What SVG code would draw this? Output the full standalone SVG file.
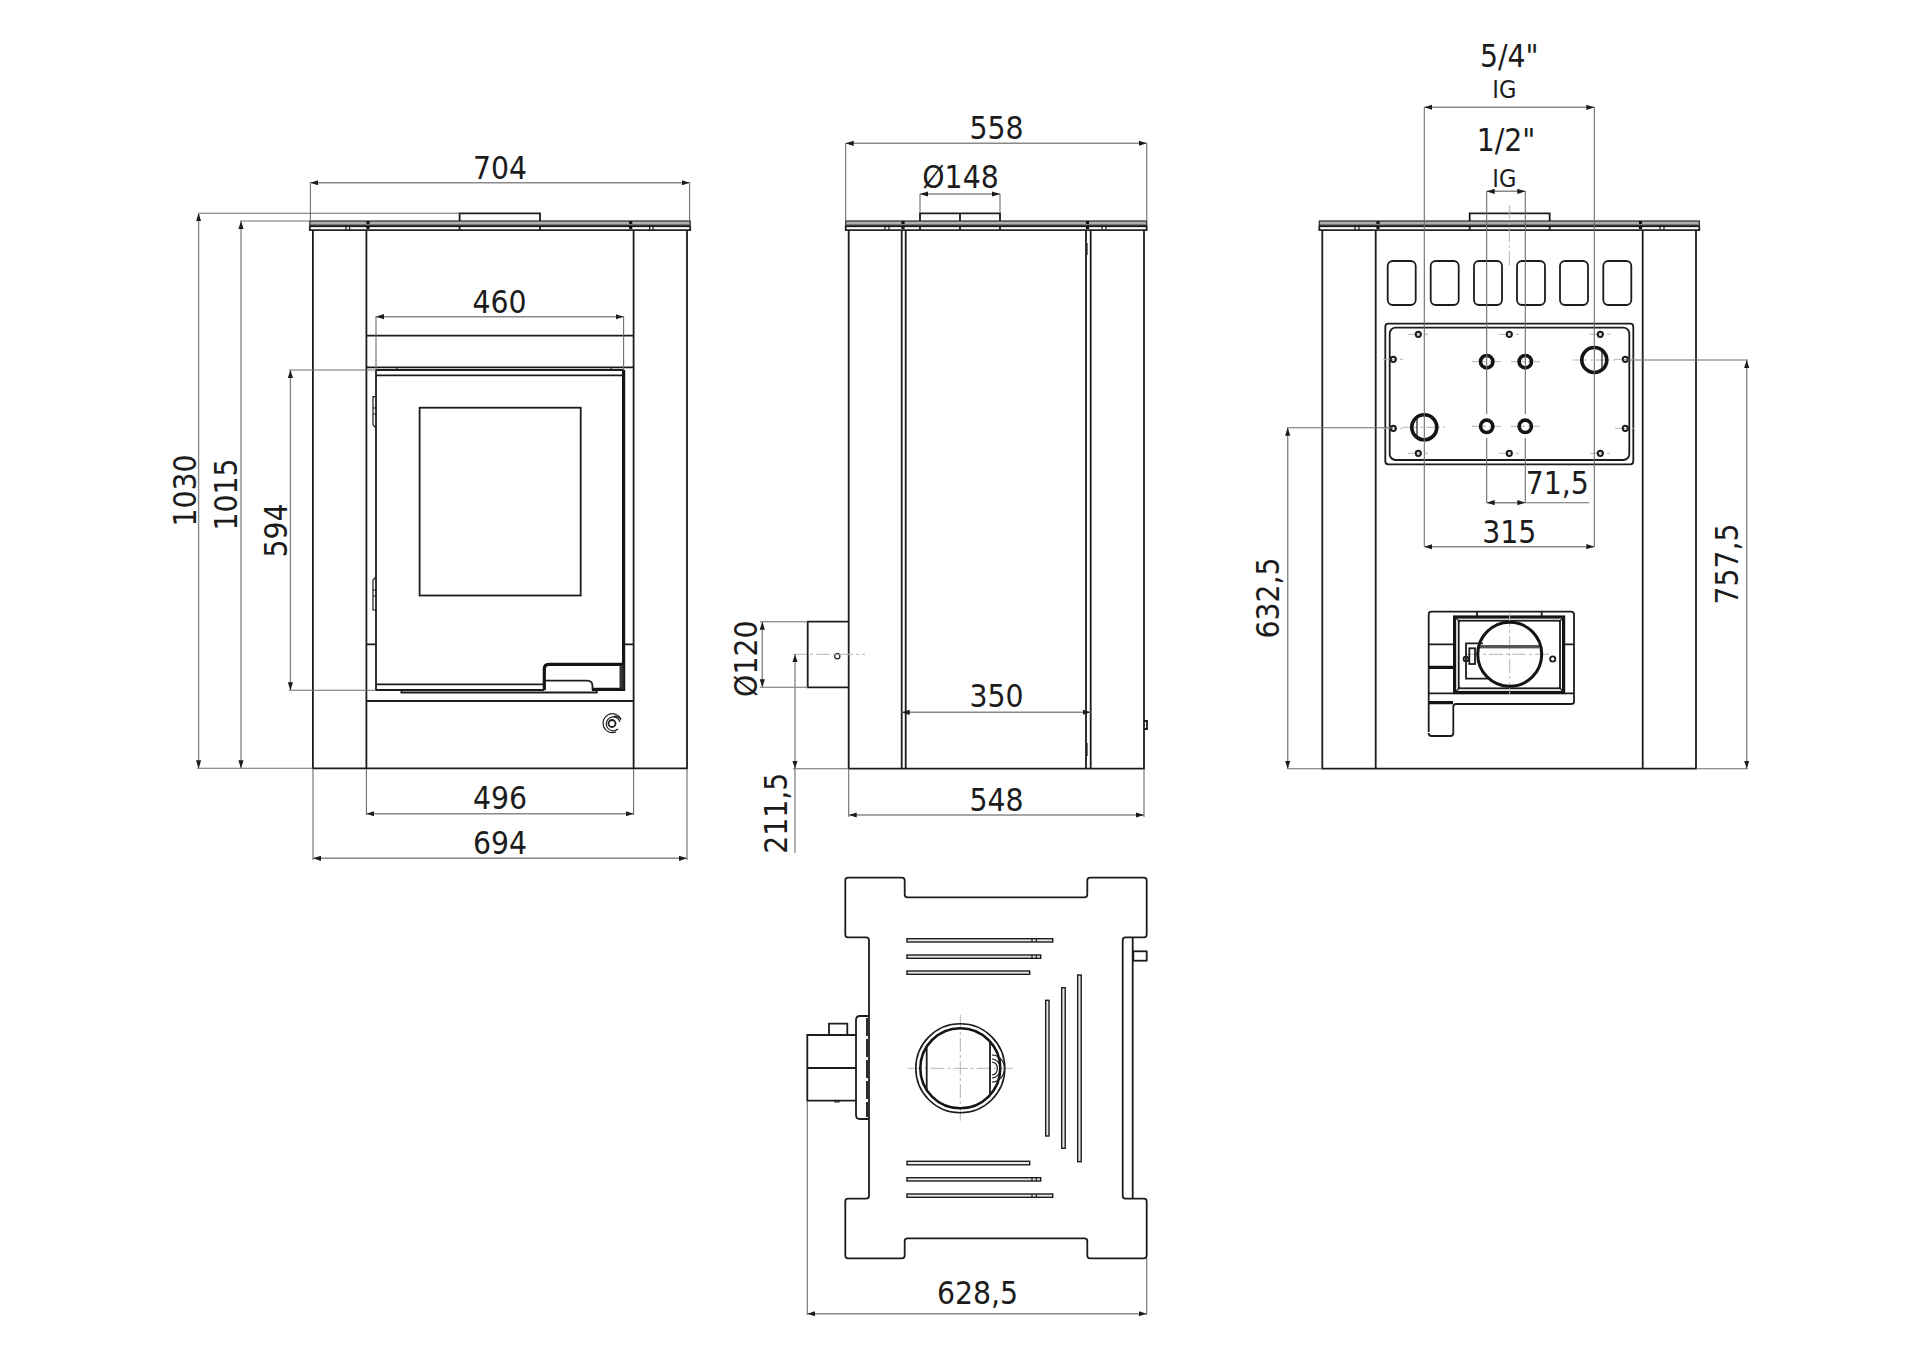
<svg xmlns="http://www.w3.org/2000/svg" width="1920" height="1358" viewBox="0 0 1920 1358">
<style>
.o{fill:none;stroke:#1c1c1c;stroke-width:1.8}
.w{fill:none;stroke:#1c1c1c;stroke-width:1.2}
.t{fill:none;stroke:#141414;stroke-width:3.2}
.g{fill:#b0b0b0;stroke:#2a2a2a;stroke-width:1.2}
.b{fill:#fff;stroke:#1c1c1c;stroke-width:1.7}
.s{fill:#e8e8e8;stroke:#1c1c1c;stroke-width:1.4}
.f{fill:#333;stroke:none}
.d{fill:none;stroke:#8a8a8a;stroke-width:1.4;marker-start:url(#a);marker-end:url(#a)}
.e{fill:none;stroke:#6e6e6e;stroke-width:1.1}
.c{fill:none;stroke:#b5b5b5;stroke-width:1;stroke-dasharray:14 3 3 3}
text{font-family:"DejaVu Sans Condensed","DejaVu Sans",sans-serif;font-stretch:condensed;font-size:31.5px;fill:#1c1c1c;text-anchor:middle}
text.m{font-size:25px}
</style>
<defs>
<marker id="a" viewBox="0 0 8 6" refX="8" refY="3" markerWidth="8" markerHeight="6" markerUnits="userSpaceOnUse" orient="auto-start-reverse"><path d="M0,.4 8,3 0,5.6Z" fill="#1c1c1c"/></marker>
</defs>
<rect width="1920" height="1358" fill="#fff"/>

<g id="front-view">
<rect class="g" x="309.8" y="221" width="380.4" height="4.2"/>
<rect class="b" x="309.8" y="226.3" width="380.4" height="3.8"/>
<path class="o" d="M459.6,221V213.3H540V221M459.6,226V230M540,226V230"/>
<path class="t" d="M368,221V230M630.7,221V230" stroke-dasharray="3 2"/>
<path class="w" d="M346,225V230M349.6,225V230M649.6,225V230M653,225V230"/>
<path class="o" d="M312.9,230V768.3H687V230M366.4,230V768.3M633.6,230V768.3M366.4,335.7H633.6M366.4,367.3H633.6M366.4,701H633.6M366.4,644.3H376M623.6,644.3H633.6"/>
<path class="o" d="M376,370H623.6M376,375.3H623.6M376,370V690H544.3M376,684.3H544.3"/>
<path class="t" d="M623.6,370V689.3H592" stroke-width="2.4"/>
<path class="w" d="M397,367V370M611,367V370"/>
<rect class="o" x="419.6" y="407.7" width="161.1" height="187.8"/>
<path class="w" d="M376,396.7H373V425L376,428M373,408H376M373,414H376M376,577L373,580V610H376M373,590H376M373,596H376"/>
<path class="t" d="M544.3,690V669Q544.3,664.3 549,664.3H623.6" stroke-width="2.4"/>
<rect class="f" x="619.5" y="665" width="4" height="24"/>
<path class="o" d="M545,680.7H587Q592.5,680.7 592.5,686V690"/>
<path class="o" d="M401.4,690.5V692.5H596.8V689"/>
</g>
<g id="front-knob">
<circle class="o" cx="612" cy="723.5" r="3.5"/>
<path class="w" d="M620,722A7,7 0 1 0 618,729M621,719A9.5,9.5 0 1 0 616,732M614,716A8,8 0 0 1 621,720"/>
</g>

<g id="side-view">
<rect class="g" x="845.7" y="221" width="301" height="4.2"/>
<rect class="b" x="845.7" y="226.3" width="301" height="3.8"/>
<path class="o" d="M920,221V213.3H1000V221M960,213.3V221M920,226V230M960,226V230M1000,226V230"/>
<path class="t" d="M903,221V230M1087.5,221V230" stroke-dasharray="3 2"/>
<path class="w" d="M885,225V230M889,225V230M1102,225V230M1106,225V230"/>
<path class="o" d="M848.7,230V768.7H1144V230M901.7,230V768.7M905.7,230V768.7M1086,230V768.7M1090.7,230V768.7"/>
<path class="w" d="M1087,243V255M1087,743V756"/>
<path class="o" d="M848.7,621.7H807.7V687.3H848.7"/>
<circle class="w" cx="837.3" cy="656.3" r="2.6"/>
<path class="o" d="M1144,721H1147V729H1144"/>
<path class="c" d="M793,654.3H865"/>
</g>

<g id="rear-view">
<rect class="g" x="1319.3" y="221" width="380" height="4.2"/>
<rect class="b" x="1319.3" y="226.3" width="380" height="3.8"/>
<path class="o" d="M1469.7,221V213.3H1549.7V221M1469.7,226V230M1549.7,226V230"/>
<path class="t" d="M1378,221V230M1640.5,221V230" stroke-dasharray="3 2"/>
<path class="w" d="M1355,225V230M1359,225V230M1660,225V230M1664,225V230"/>
<path class="o" d="M1322.3,230V768.7H1696V230M1375.7,230V768.7M1642.7,230V768.7"/>
<path class="c" d="M1509.3,205V265"/>
<g id="vents">
<rect class="o" x="1387.7" y="261" width="28" height="44" rx="5"/>
<rect class="o" x="1430.7" y="261" width="28" height="44" rx="5"/>
<rect class="o" x="1474" y="261" width="28" height="44" rx="5"/>
<rect class="o" x="1517" y="261" width="28" height="44" rx="5"/>
<rect class="o" x="1560" y="261" width="28" height="44" rx="5"/>
<rect class="o" x="1603.3" y="261" width="28" height="44" rx="5"/>
</g>
<g id="connection-plate">
<rect class="o" x="1385.3" y="323.7" width="248" height="140.6" rx="3"/>
<rect class="o" x="1389.7" y="327.7" width="239.6" height="132.3" rx="6"/>
<path class="c" d="M1408,334.3H1429M1499,334.3H1520M1590,334.3H1611M1383,359.3H1404M1615,359.3H1636M1383,428.3H1404M1615,428.3H1636M1408,453.3H1429M1499,453.3H1520M1590,453.3H1611M1472,361.7H1501M1511,361.7H1540M1472,426.3H1501M1511,426.3H1540M1573,360H1615M1403,427.3H1445"/>
<g class="w" style="stroke-width:2">
<circle cx="1418.3" cy="334.3" r="2.6"/><circle cx="1509.3" cy="334.3" r="2.6"/><circle cx="1600.3" cy="334.3" r="2.6"/>
<circle cx="1393.3" cy="359.3" r="2.6"/><circle cx="1625.3" cy="359.3" r="2.6"/>
<circle cx="1393.3" cy="428.3" r="2.6"/><circle cx="1625.3" cy="428.3" r="2.6"/>
<circle cx="1418.3" cy="453.3" r="2.6"/><circle cx="1509.3" cy="453.3" r="2.6"/><circle cx="1600.3" cy="453.3" r="2.6"/>
</g>
<g class="t" style="stroke-width:3.6">
<circle cx="1486.7" cy="361.7" r="6.2"/><circle cx="1525.3" cy="361.7" r="6.2"/>
<circle cx="1486.7" cy="426.3" r="6.2"/><circle cx="1525.3" cy="426.3" r="6.2"/>
<circle cx="1594.3" cy="360" r="12.5"/><circle cx="1424.3" cy="427.3" r="12.5"/>
</g>
<path class="w" d="M1602,350V370M1417,417V437"/>
</g>
<g id="ash-door">
<path class="o" d="M1428.7,732V614.5Q1428.7,611.7 1431.5,611.7H1571Q1574,611.7 1574,614.5V702Q1574,704 1571,704H1456Q1453.3,704 1453.3,707V733Q1453.3,736 1450.5,736H1431.5Q1428.7,736 1428.7,733"/>
<path class="o" d="M1477,611.7V616.7M1541.7,611.7V616.7M1428.7,644.3H1454M1564,644.3H1574M1428.7,693.3H1574"/>
<path class="t" d="M1428.7,667.3H1454M1428.7,702.7H1453" stroke-width="1.8"/>
<rect class="t" x="1454.6" y="617" width="109" height="75.5"/>
<rect class="o" x="1458.7" y="620.7" width="101.3" height="67.6"/>
<path class="w" d="M1455,617L1460,622M1564,617L1559,622M1455,692.5L1460,687M1564,692.5L1559,687"/>
<path class="c" d="M1509.7,613V695M1466,654.3H1550"/>
<rect x="1478.3" y="645" width="61" height="3.4" fill="#555"/>
<circle class="t" cx="1509.7" cy="654.3" r="32" style="stroke-width:3"/>
<path class="o" d="M1483,643.3H1466V678.7H1490"/>
<rect class="o" x="1469.3" y="648.3" width="5.7" height="15.7"/>
<circle class="o" cx="1466" cy="659" r="2.4"/>
<circle class="o" cx="1552.7" cy="659" r="2.6"/>
</g>
</g>

<g id="plan-view">
<path class="o" d="M848,877.7H902Q904.7,877.7 904.7,880.5V894.5Q904.7,897.3 907.5,897.3H1084.5Q1087.3,897.3 1087.3,894.5V880.5Q1087.3,877.7 1090,877.7H1144Q1146.7,877.7 1146.7,880.5V934.5Q1146.7,937.3 1144,937.3H1125.5Q1122.7,937.3 1122.7,940V1196Q1122.7,1198.7 1125.5,1198.7H1144Q1146.7,1198.7 1146.7,1201.5V1255.5Q1146.7,1258.3 1144,1258.3H1090Q1087.3,1258.3 1087.3,1255.5V1241Q1087.3,1238.3 1084.5,1238.3H907.5Q904.7,1238.3 904.7,1241V1255.5Q904.7,1258.3 902,1258.3H848Q845.3,1258.3 845.3,1255.5V1201.5Q845.3,1198.7 848,1198.7H866Q869,1198.7 869,1196V940Q869,937.3 866,937.3H848Q845.3,937.3 845.3,934.5V880.5Q845.3,877.7 848,877.7Z"/>
<path class="o" d="M1132.7,937.3V1198.7"/>
<rect class="o" x="1133.3" y="951.3" width="13.4" height="9.4"/>
<g id="baffles">
<rect class="s" x="907" y="938.7" width="145.7" height="3.3"/>
<rect class="s" x="907" y="955" width="133.7" height="3.3"/>
<rect class="s" x="907" y="971" width="122.7" height="3.3"/>
<rect class="s" x="907" y="1161.3" width="122.7" height="3.5"/>
<rect class="s" x="907" y="1177.7" width="133.7" height="3.3"/>
<rect class="s" x="907" y="1194" width="145.7" height="3.3"/>
<rect class="s" x="1045.7" y="1000.3" width="3.3" height="135.7"/>
<rect class="s" x="1061.7" y="987.7" width="3.5" height="160.6"/>
<rect class="s" x="1077.7" y="975" width="3.5" height="186.7"/>
<path class="w" d="M1032,938.7V942M1036.3,938.7V942M1032,955V958.3M1036.3,955V958.3M1032,1177.7V1181M1036.3,1177.7V1181M1032,1194V1197.3M1036.3,1194V1197.3"/>
</g>
<g id="flue-top">
<path class="c" d="M907.7,1068.3H1013M960.3,1015V1120.7"/>
<circle class="w" cx="960.3" cy="1068.3" r="44.5" style="stroke-width:1.6"/>
<circle class="t" cx="960.3" cy="1068.3" r="40" style="stroke-width:2.6"/>
<path class="o" d="M926.7,1046V1091M990,1041V1096"/>
<path class="w" d="M992,1055A12,13 0 0 1 992,1082M992,1059A8,9 0 0 1 992,1078M992,1062A5,6 0 0 1 992,1075"/>
</g>
<path class="o" d="M869,1016H860Q856,1016 856,1020V1115Q856,1119 860,1119H869"/>
<path class="t" d="M867,1018V1117" style="stroke-width:1.8" stroke-dasharray="18 3"/>
<path class="o" d="M856.7,1035H807.3V1100.7H856.7M807.3,1068H856.7"/>
<path class="o" d="M829,1035V1023.7H847.3V1035"/>
<path class="w" d="M835,1100V1102H839V1100"/>
</g>

<g id="connectors">
<path class="e" d="M310.4,182V221M689.6,182V221M198,213.3H459.6M240,221H309.3M197,768.3H313M376,316V370M623.6,316V370M289,370H376M289,690.3H376M366.4,769V815M633.6,769V815M313,769V860M687,769V860"/>
<path class="d" d="M310.4,182.7H689.6"/>
<path class="d" d="M376,316.7H623.6"/>
<path class="d" d="M198.6,213.3V768.3"/>
<path class="d" d="M241,221V768.3"/>
<path class="d" d="M290.4,370V690.3"/>
<path class="d" d="M366.4,813.7H633.6"/>
<path class="d" d="M313,858.3H687"/>

<path class="e" d="M845.7,143V221M1146.7,143V221M920,194V213M1000,194V213M760,621.7H807.7M760,687.3H807.7M793,768.7H848.7M848.7,769V817M1144,769V817M795,768.7V853"/>
<path class="d" d="M845.7,143.3H1146.7"/>
<path class="d" d="M920,194H1000"/>
<path class="d" d="M762.3,621.7V687.3"/>
<path class="d" d="M795,654.3V768.7"/>
<path class="d" d="M901.7,712.3H1090.7"/>
<path class="d" d="M848.7,815H1144"/>

<path class="e" d="M1424.3,107V547M1594.3,107V547M1486.7,191V414M1525.3,191V414M1486.7,438V503M1525.3,438V503M1525.3,502.7H1589.3M1287,427.7H1393M1625,360H1748M1287,768.7H1322M1696,768.7H1748"/>
<path class="d" d="M1424.3,107.3H1594.3"/>
<path class="d" d="M1486.7,191.3H1525.3"/>
<path class="d" d="M1486.7,502.7H1525.3"/>
<path class="d" d="M1424.3,546.7H1594.3"/>
<path class="d" d="M1287.7,427.7V768.7"/>
<path class="d" d="M1746.7,360V768.7"/>

<path class="e" d="M807.3,1101V1315M1146.7,1258V1315"/>
<path class="d" d="M807.3,1313.7H1146.7"/>
</g>

<g id="labels">
<text x="500" y="179">704</text>
<text x="499.5" y="312.7">460</text>
<text x="500" y="809">496</text>
<text x="500" y="854">694</text>
<text transform="translate(196 490.5) rotate(-90)">1030</text>
<text transform="translate(237 494.5) rotate(-90)">1015</text>
<text transform="translate(287 530.5) rotate(-90)">594</text>
<text x="996.5" y="139.3">558</text>
<text x="960.5" y="188.3">Ø148</text>
<text x="996.5" y="707.3">350</text>
<text x="996.5" y="811">548</text>
<text transform="translate(756.7 658.7) rotate(-90)">Ø120</text>
<text transform="translate(786.7 813.3) rotate(-90)">211,5</text>
<text x="1509.3" y="66.7">5/4"</text>
<text class="m" x="1504.3" y="98.3">IG</text>
<text x="1506" y="150.7">1/2"</text>
<text class="m" x="1504.3" y="186.7">IG</text>
<text x="1557.3" y="494.3">71,5</text>
<text x="1509.3" y="542.7">315</text>
<text transform="translate(1279.3 598) rotate(-90)">632,5</text>
<text transform="translate(1738 564) rotate(-90)">757,5</text>
<text x="977.5" y="1304">628,5</text>
</g>
</svg>
